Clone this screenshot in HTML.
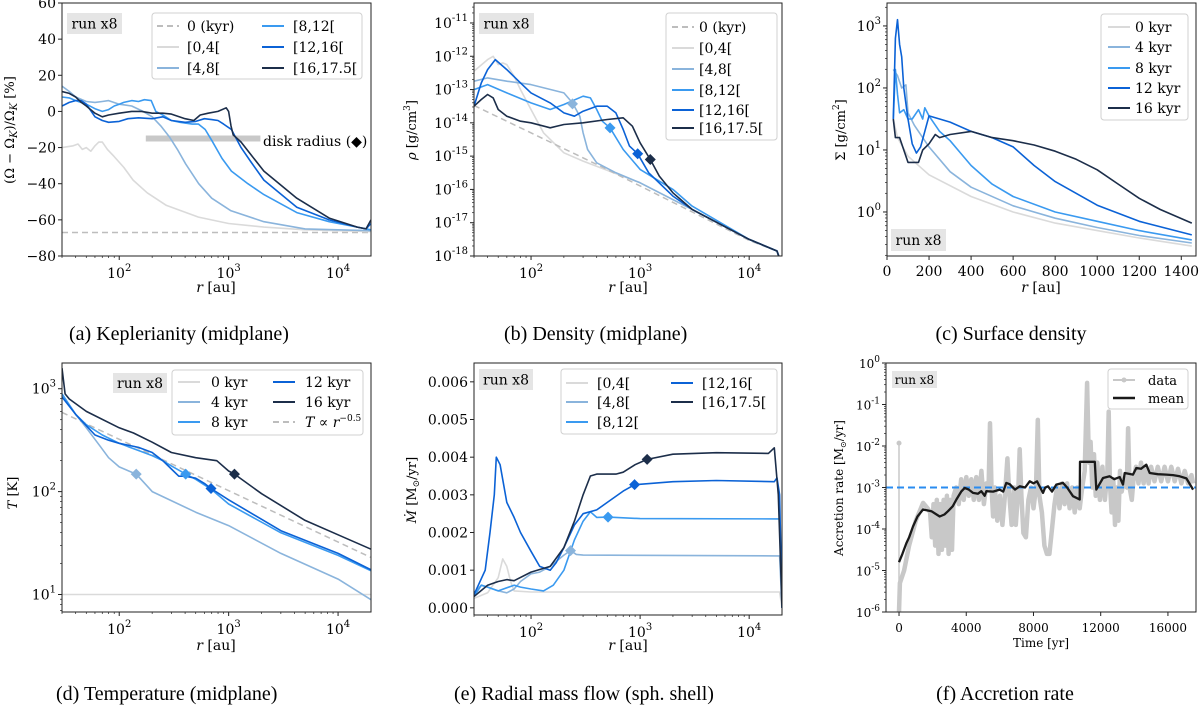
<!DOCTYPE html>
<html><head><meta charset="utf-8">
<style>
html,body{margin:0;padding:0;background:#fff;}
svg{display:block;font-family:"DejaVu Serif","Liberation Serif",serif;}
.cap{font-family:"Liberation Serif","DejaVu Serif",serif;font-size:20px;fill:#000;}
</style></head>
<body>
<svg id="fig" width="1200" height="706" viewBox="0 0 1200 706" xmlns="http://www.w3.org/2000/svg">
<text class="cap" x="69" y="340">(a) Keplerianity (midplane)</text>
<text class="cap" x="504" y="340">(b) Density (midplane)</text>
<text class="cap" x="1011" y="340" text-anchor="middle">(c) Surface density</text>
<text class="cap" x="56" y="700">(d) Temperature (midplane)</text>
<text class="cap" x="584" y="700" text-anchor="middle">(e) Radial mass flow (sph. shell)</text>
<text class="cap" x="1005" y="700" text-anchor="middle">(f) Accretion rate</text>
</svg>
<script>
// ---------- colours ----------
const C0='#bdbdbd', C1='#dadada', C2='#8ab4dc', C3='#3a9af0', C4='#0b62d6', C5='#1c2e4a';

// ---------- (a) Keplerianity: [r au, %] ----------
const aT0=[[30,-67],[20000,-67]];
const aS1=[[30,-20],[38,-19],[42,-18],[46,-21],[50,-20],[55,-22],[60,-19],[65,-17],[70,-17],[78,-21],[90,-25],[110,-31],[134,-38],[180,-45],[270,-52],[530,-58.5],[1000,-62],[2100,-64],[5000,-65.5],[20000,-66.5]];
const aS2=[[30,14],[35,11],[40,8],[50,5.5],[60,5],[70,5.5],[80,6],[100,4],[130,3],[165,0],[200,-3],[240,-8],[287,-14],[340,-21],[404,-29],[532,-40],[700,-48],[1050,-55],[2100,-61],[5000,-65],[20000,-66]];
const aS3=[[30,8],[35,7.5],[40,6],[50,4],[60,1.5],[70,0],[80,1],[90,3],[100,4],[110,5],[130,6],[150,5.5],[170,6.5],[196,6],[216,0],[250,-2],[300,-5],[360,-6],[464,-7],[530,-7],[610,-10],[700,-16],[870,-26],[1060,-33],[1500,-40],[2100,-46],[4200,-56],[8300,-61],[15000,-64],[20000,-65.5]];
const aS4=[[30,3],[35,5],[40,6],[45,6],[50,4],[60,-3],[70,-5],[80,-6],[100,-5.5],[120,-4],[150,-3.5],[200,-4],[250,-3],[300,-5],[400,-6],[500,-5.5],[600,-4],[700,-4.5],[800,-5],[900,-7],[1060,-10],[1300,-20],[1600,-28],[2100,-38],[4200,-53],[8300,-60],[15000,-64],[18000,-65],[20000,-62]];
const aS5=[[30,11],[35,10],[40,8],[45,5],[50,3],[60,-1],[70,-3],[80,-2],[100,-1],[130,0],[160,0],[200,-1],[250,-1],[300,-1.5],[400,-4],[480,-5],[550,-2],[650,-1],[800,0],[950,2],[1000,0],[1050,-8],[1100,-13],[1300,-17],[1600,-24],[2100,-33],[4200,-48],[8300,-59],[15000,-64],[18000,-65],[20000,-60]];
const aBar=[[175,-15],[1950,-15]];

// ---------- (b) Density: [r, log10 rho] ----------
const bT0=[[30,-13.48],[450,-15.33],[10000,-17.53],[18000,-17.85],[20000,-18.2]];
const bS1=[[30,-12.45],[40,-12.1],[45,-12.0],[50,-12.25],[55,-12.2],[60,-12.25],[70,-12.6],[80,-13.0],[100,-13.6],[130,-14.3],[200,-14.9],[300,-15.15],[1000,-15.8],[3000,-16.6],[10000,-17.5],[18000,-17.85],[20000,-18.3]];
const bS2=[[30,-12.75],[40,-12.65],[60,-12.75],[100,-12.85],[200,-13.1],[240,-13.4],[280,-13.8],[300,-14.3],[330,-14.8],[400,-15.2],[600,-15.5],[1000,-15.8],[3000,-16.6],[10000,-17.5],[18000,-17.85],[20000,-18.3]];
const bS3=[[30,-13.0],[40,-12.85],[60,-13.1],[100,-13.4],[150,-13.6],[200,-13.45],[300,-13.2],[350,-13.25],[400,-13.6],[450,-13.95],[530,-14.15],[700,-14.8],[1000,-15.4],[2000,-16.0],[3000,-16.5],[10000,-17.5],[18000,-17.85],[20000,-18.3]];
const bS4=[[30,-13.5],[35,-12.8],[40,-12.4],[47,-12.1],[60,-12.4],[80,-12.8],[100,-13.1],[150,-13.4],[200,-13.7],[250,-13.8],[300,-13.65],[400,-13.5],[500,-13.5],[600,-13.7],[700,-14.2],[800,-14.7],[950,-14.93],[1200,-15.5],[2000,-16.2],[3000,-16.6],[10000,-17.5],[18000,-17.85],[20000,-18.3]];
const bS5=[[30,-13.5],[35,-13.3],[40,-13.15],[45,-13.25],[50,-13.6],[60,-13.8],[80,-13.95],[100,-14.0],[150,-14.15],[200,-14.05],[300,-14.0],[500,-13.9],[700,-13.85],[850,-14.1],[1000,-14.6],[1240,-15.1],[1500,-15.6],[2000,-16.1],[3000,-16.6],[10000,-17.5],[18000,-17.85],[20000,-18.3]];
const bMk=[[240,-13.43],[530,-14.15],[950,-14.93],[1240,-15.1]];

// ---------- (c) Surface density: [r, log10 Sigma] ----------
const cS1=[[30,1.5],[50,1.2],[100,0.9],[200,0.6],[400,0.25],[600,0.0],[800,-0.18],[1000,-0.3],[1200,-0.42],[1450,-0.55]];
const cS2=[[30,2.3],[50,2.2],[70,2.0],[90,2.05],[100,1.6],[130,1.4],[200,1.05],[300,0.65],[400,0.4],[600,0.1],[800,-0.1],[1000,-0.25],[1200,-0.38],[1450,-0.5]];
const cS3=[[30,1.5],[40,2.3],[50,1.9],[60,1.6],[80,1.65],[100,1.5],[120,1.5],[150,1.65],[170,1.5],[180,1.68],[200,1.55],[250,1.3],[300,1.15],[350,0.95],[400,0.75],[500,0.45],[600,0.25],[800,0.0],[1000,-0.15],[1200,-0.3],[1450,-0.45]];
const cS4=[[30,1.5],[40,2.8],[50,3.1],[60,2.7],[70,2.5],[80,2.0],[100,1.5],[120,1.1],[140,0.95],[160,1.05],[180,1.3],[200,1.55],[250,1.5],[300,1.45],[400,1.3],[500,1.2],[600,1.05],[700,0.75],[800,0.49],[1000,0.11],[1200,-0.15],[1450,-0.37]];
const cS5=[[30,1.5],[40,1.2],[60,1.2],[80,1.0],[100,0.8],[150,0.8],[170,1.0],[200,1.1],[230,1.25],[250,1.2],[300,1.25],[400,1.3],[500,1.2],[600,1.15],[700,1.08],[800,0.98],[900,0.85],[1000,0.68],[1100,0.45],[1200,0.22],[1300,0.04],[1450,-0.18]];

// ---------- (d) Temperature: [r, log10 T] ----------
const dS1=[[30,1],[20000,1]];
const dS2=[[30,2.95],[40,2.75],[50,2.62],[67,2.44],[80,2.33],[100,2.24],[143,2.17],[200,2.0],[500,1.8],[1000,1.67],[3000,1.4],[10000,1.15],[20000,0.95]];
const dS3=[[30,2.95],[40,2.75],[50,2.65],[70,2.55],[100,2.47],[150,2.4],[200,2.35],[250,2.3],[300,2.25],[405,2.17],[500,2.12],[700,2.02],[1000,1.88],[3000,1.6],[10000,1.38],[20000,1.23]];
const dS4=[[30,2.92],[40,2.75],[60,2.55],[80,2.5],[100,2.47],[150,2.43],[200,2.38],[250,2.3],[300,2.22],[350,2.15],[400,2.15],[500,2.13],[600,2.08],[690,2.03],[1000,1.92],[3000,1.62],[10000,1.4],[20000,1.24]];
const dS5=[[30,3.2],[32,2.95],[35,2.9],[50,2.78],[100,2.62],[135,2.57],[200,2.48],[300,2.38],[500,2.33],[780,2.3],[1000,2.2],[1130,2.17],[2000,1.98],[5000,1.72],[10000,1.58],[20000,1.44]];
const dFit=[[30,2.77],[20000,1.36]];
const dMk=[[143,2.17],[405,2.17],[690,2.03],[1130,2.17]];

// ---------- (e) Mass flow: [r, Mdot in 1e-3 Msun/yr] ----------
const eS1=[[30,0.25],[40,0.4],[50,0.8],[55,1.3],[60,1.1],[65,0.7],[70,0.45],[100,0.42],[19000,0.42],[20000,0]];
const eS2=[[30,0.4],[35,0.6],[40,0.55],[50,0.45],[60,0.4],[70,0.5],[80,0.7],[100,0.9],[120,0.95],[150,1.1],[200,1.4],[230,1.52],[260,1.42],[300,1.4],[18000,1.38],[19000,1.38],[20000,0]];
const eS3=[[30,0.3],[35,0.6],[40,0.55],[50,0.45],[70,0.6],[80,0.55],[100,0.5],[130,0.45],[160,0.6],[200,1.0],[250,1.8],[300,2.3],[350,2.55],[400,2.4],[508,2.41],[1000,2.37],[18000,2.36],[19000,2.36],[20000,0]];
const eS4=[[30,0.35],[38,1.0],[42,2.0],[46,3.0],[48,4.0],[52,3.8],[60,2.8],[70,2.4],[80,2.0],[100,1.5],[120,1.1],[150,1.0],[170,1.2],[200,1.6],[250,2.2],[300,2.5],[400,2.6],[500,2.8],[700,3.1],[890,3.27],[2000,3.35],[5000,3.38],[17000,3.35],[18000,3.45],[19000,3.0],[20000,0]];
const eS5=[[30,0.3],[40,0.6],[50,0.7],[60,0.75],[70,0.72],[100,0.95],[150,1.1],[200,1.6],[250,2.3],[300,3.0],[350,3.5],[400,3.55],[500,3.55],[600,3.55],[700,3.6],[900,3.8],[1160,3.94],[2000,4.08],[5000,4.12],[15000,4.1],[17000,4.25],[18500,3.0],[20000,0]];
const eMk=[[230,1.52],[508,2.41],[890,3.27],[1160,3.94]];

// ---------- (f) Accretion rate: [time yr, log10 Mdot] ----------
const fSpike0=[[0,-6],[0,-1.93]];
const fData=[[0,-6],[50,-5.3],[300,-5.0],[600,-4.4],[1000,-3.8],[1430,-3.37],[1700,-3.5],[1850,-3.6],[1950,-4.2],[2050,-3.4],[2150,-4.4],[2250,-3.3],[2350,-4.6],[2450,-3.4],[2550,-4.5],[2650,-3.3],[2750,-4.4],[2850,-3.2],[2950,-4.6],[3050,-3.3],[3150,-4.5],[3250,-3.2],[3400,-3.0],[3550,-3.4],[3700,-2.8],[3850,-3.3],[4000,-2.75],[4150,-3.2],[4300,-2.8],[4450,-3.3],[4600,-2.75],[4750,-3.3],[4900,-2.6],[5050,-3.4],[5200,-2.9],[5330,-3.0],[5415,-1.45],[5500,-3.0],[5600,-3.7],[5700,-3.0],[5850,-3.8],[6000,-3.2],[6150,-3.9],[6300,-3.2],[6450,-2.3],[6550,-3.1],[6700,-3.9],[6850,-3.0],[6950,-3.9],[7100,-3.0],[7180,-2.08],[7280,-3.2],[7400,-4.1],[7550,-4.2],[7700,-3.3],[7850,-3.0],[8000,-3.5],[8150,-3.0],[8260,-1.37],[8350,-3.2],[8500,-3.6],[8650,-4.4],[8800,-4.6],[8950,-4.6],[9100,-4.0],[9250,-3.4],[9400,-3.0],[9550,-3.5],[9700,-2.9],[9850,-3.4],[10000,-2.9],[10150,-3.5],[10300,-3.0],[10450,-3.6],[10600,-3.0],[10750,-3.5],[10900,-3.0],[11050,-2.6],[11190,-0.48],[11300,-2.4],[11400,-1.9],[11500,-3.0],[11600,-2.2],[11700,-3.2],[11800,-2.4],[11950,-3.3],[12100,-2.5],[12250,-3.3],[12400,-2.6],[12475,-1.17],[12550,-2.9],[12650,-3.6],[12750,-2.8],[12850,-3.9],[12950,-3.0],[13050,-3.8],[13150,-2.6],[13250,-3.1],[13400,-2.8],[13550,-3.0],[13630,-1.57],[13720,-3.0],[13850,-3.3],[13950,-2.8],[14100,-2.5],[14250,-2.9],[14400,-2.4],[14550,-2.9],[14700,-2.5],[14850,-2.9],[15000,-2.5],[15200,-2.85],[15400,-2.5],[15600,-2.85],[15800,-2.5],[16000,-2.85],[16200,-2.5],[16400,-2.85],[16600,-2.55],[16800,-2.9],[17000,-2.6],[17200,-2.9],[17400,-2.7],[17500,-2.9]];
const fMean=[[0,-4.8],[200,-4.6],[436,-4.34],[600,-4.2],[833,-3.94],[1100,-3.7],[1428,-3.53],[1924,-3.57],[2420,-3.7],[2700,-3.65],[2915,-3.57],[3200,-3.45],[3411,-3.29],[3700,-3.1],[3906,-3.01],[4150,-3.05],[4402,-3.13],[4700,-3.15],[4898,-3.09],[5100,-3.2],[5195,-3.09],[5600,-3.1],[5989,-3.05],[6200,-3.1],[6385,-2.89],[6583,-2.92],[6900,-3.05],[7178,-2.97],[7500,-3.0],[7773,-2.85],[8000,-2.9],[8209,-2.85],[8400,-3.0],[8566,-3.13],[8700,-3.0],[8864,-2.97],[9100,-3.1],[9360,-2.93],[9756,-2.89],[10000,-3.0],[10351,-3.21],[10748,-3.29],[10770,-2.38],[11650,-2.38],[11740,-3.05],[11950,-2.9],[12137,-2.77],[12534,-2.73],[12800,-2.8],[13129,-2.75],[13327,-2.93],[13426,-2.65],[13922,-2.69],[14120,-2.53],[14400,-2.55],[14715,-2.45],[14914,-2.65],[15400,-2.68],[15905,-2.69],[16300,-2.7],[16698,-2.73],[17100,-2.78],[17500,-3.05]];
const fRef=[[-775,-3],[17670,-3]];

// ---------- tick labels ----------
const aYTicks=[60,40,20,0,-20,-40,-60,-80];
const cXTicks=[0,200,400,600,800,1000,1200,1400];
const eYTicks=[0,1,2,3,4,5,6];
const eYLabels=['0.000','0.001','0.002','0.003','0.004','0.005','0.006'];
const fXTicks=[0,4000,8000,12000,16000];

// ---------- helpers ----------
const NS='http://www.w3.org/2000/svg';
const fig=document.getElementById('fig');
function mk(tag,attrs,parent){const e=document.createElementNS(NS,tag);for(const k in attrs)e.setAttribute(k,attrs[k]);(parent||fig).appendChild(e);return e;}
function sup(parent,x,y,base,exp,anchor,fs,name){
  const t=mk('text',{x:x,y:y,'text-anchor':anchor,'font-size':fs},parent);
  
  
  t.appendChild(document.createTextNode(base));
  const s=mk('tspan',{dy:-Math.round(fs*0.5),'font-size':Math.round(fs*0.72)},t);
  s.textContent=exp;
  return t;
}
let clipN=0;
function makePanel(P){
  const g=mk('g',{});
  
  
  const X=v=>P.xt==='log'? P.x0+(Math.log10(v)-P.xd[0])/(P.xd[1]-P.xd[0])*(P.x1-P.x0) : P.x0+(v-P.xd[0])/(P.xd[1]-P.xd[0])*(P.x1-P.x0);
  const Y=v=>P.y1-(v-P.yd[0])/(P.yd[1]-P.yd[0])*(P.y1-P.y0);
  const fs=P.fs||14;
  if(P.xt==='log'){
    for(let n=Math.floor(P.xd[0]);n<=Math.ceil(P.xd[1]);n++){
      for(let k=1;k<10;k++){const l=n+Math.log10(k); if(l<P.xd[0]-1e-9||l>P.xd[1]+1e-9)continue;
        const x=P.x0+(l-P.xd[0])/(P.xd[1]-P.xd[0])*(P.x1-P.x0);
        const tk=mk('line',{x1:x,x2:x,y1:P.y1,y2:P.y1+(k===1?4:2),stroke:'#222','stroke-width':k===1?1:0.7},g);
        
        
        if(k===1) sup(g,x,P.y1+22,'10',String(n),'middle',fs,'x-tick-label');
      }
    }
  } else {
    P.xticks.forEach(v=>{const x=X(v);
      const tk=mk('line',{x1:x,x2:x,y1:P.y1,y2:P.y1+4,stroke:'#222','stroke-width':1},g);
      
      
      const t=mk('text',{x:x,y:P.y1+20,'text-anchor':'middle','font-size':fs},g);
      
      
      t.textContent=String(v);});
  }
  if(P.yt==='log'){
    for(let n=Math.floor(P.yd[0]);n<=Math.ceil(P.yd[1]);n++){
      for(let k=1;k<10;k++){const l=n+Math.log10(k); if(l<P.yd[0]-1e-9||l>P.yd[1]+1e-9)continue;
        const y=Y(l);
        const tk=mk('line',{x1:P.x0,x2:P.x0-(k===1?4:2),y1:y,y2:y,stroke:'#222','stroke-width':k===1?1:0.7},g);
        
        
        if(k===1) sup(g,P.x0-6,y+5,'10',String(n),'end',fs,'y-tick-label');
      }
    }
  } else {
    P.yticks.forEach((v,i)=>{const y=Y(v);
      const tk=mk('line',{x1:P.x0,x2:P.x0-4,y1:y,y2:y,stroke:'#222','stroke-width':1},g);
      
      
      const t=mk('text',{x:P.x0-6,y:y+5,'text-anchor':'end','font-size':fs},g);
      
      
      t.textContent=P.ylabels?P.ylabels[i]:String(v).replace('-','\u2212');});
  }
  const id='clip'+(clipN++);
  const cp=mk('clipPath',{id:id},g);
  mk('rect',{x:P.x0,y:P.y0,width:P.x1-P.x0,height:P.y1-P.y0},cp);
  const pg=mk('g',{'clip-path':'url(#'+id+')'},g);
  
  
  const fr=mk('rect',{x:P.x0,y:P.y0,width:P.x1-P.x0,height:P.y1-P.y0,fill:'none',stroke:'#222','stroke-width':1},g);
  
  
  return {g,pg,X,Y,P};
}
function line(A,data,color,w,name,dash){
  const d=data.map((p,i)=>(i?'L':'M')+A.X(p[0]).toFixed(1)+','+A.Y(p[1]).toFixed(1)).join('');
  const at={d:d,fill:'none',stroke:color,'stroke-width':w,'stroke-linejoin':'round'};
  if(dash)at['stroke-dasharray']=dash;
  const p=mk('path',at,A.pg);
  
  
  return p;
}
function diamonds(A,data,colors,name){
  data.forEach((p,i)=>{const x=A.X(p[0]),y=A.Y(p[1]),s=5.5;
    const m=mk('polygon',{points:`${x},${y-s} ${x+s},${y} ${x},${y+s} ${x-s},${y}`,fill:colors[i]},A.pg);
    
    });
}
function tag(x,y,w,h,fs){
  const r=mk('rect',{x:x,y:y,width:w,height:h,fill:'#e5e5e5'});
  
  
  const t=mk('text',{x:x+w/2,y:y+h/2+fs*0.36,'text-anchor':'middle','font-size':fs});
  
  
  t.textContent='run x8';
}
function legend(bx,by,bw,bh,entries,fs){
  const r=mk('rect',{x:bx,y:by,width:bw,height:bh,rx:3,fill:'#fff','fill-opacity':0.85,stroke:'#d0d0d0','stroke-width':1});
  
  
  entries.forEach(e=>{
    const at={x1:e.lx,x2:e.lx+22,y1:e.y,y2:e.y,stroke:e.c,'stroke-width':e.w||2};
    if(e.dash)at['stroke-dasharray']=e.dash;
    const l=mk('line',at);
    
    
    if(e.dot){const d=mk('circle',{cx:e.lx+11,cy:e.y,r:2.5,fill:e.c});
      
      }
    const t=mk('text',{x:e.tx,y:e.y+5,'font-size':fs});
    
    
    if(e.html){t.innerHTML=e.html;}else{t.textContent=e.t;}
  });
}
function label(x,y,html,rot,fs,name){
  const t=mk('text',{x:x,y:y,'text-anchor':'middle','font-size':fs,transform:rot?`rotate(-90 ${x} ${y})`:''});
  
  
  t.innerHTML=html;
}
const RAU='<tspan font-style="italic">r</tspan> [au]';

// ---------- panel a ----------
const A=makePanel({id:'a',x0:62,x1:371,y0:3,y1:256,xt:'log',xd:[1.477,4.301],yt:'lin',yd:[-80,60],yticks:aYTicks});
line(A,aBar,'#c8c8c8',6,'disk-radius-bar');
line(A,aT0,C0,1.5,'line-0kyr','6,4');
line(A,aS1,C1,1.6,'line-0-4kyr');
line(A,aS2,C2,1.6,'line-4-8kyr');
line(A,aS3,C3,1.6,'line-8-12kyr');
line(A,aS4,C4,1.6,'line-12-16kyr');
line(A,aS5,C5,1.6,'line-16-17.5kyr');
{const t=mk('text',{x:263,y:146,'font-size':14});
 
 
 t.textContent='disk radius (\u25C6)';}
tag(67,13,55,21,14);
legend(152,13,210,66,[
 {lx:157,tx:187,y:26,c:C0,t:'0 (kyr)',dash:'6,4'},{lx:157,tx:187,y:47,c:C1,t:'[0,4['},{lx:157,tx:187,y:68,c:C2,t:'[4,8['},
 {lx:262,tx:293,y:26,c:C3,t:'[8,12['},{lx:262,tx:293,y:47,c:C4,t:'[12,16['},{lx:262,tx:293,y:68,c:C5,t:'[16,17.5['}],14);
label(216,292,RAU,false,14,'x-axis-title-a');
label(14,130,'(Ω − Ω<tspan font-style="italic" font-size="10" dy="3">K</tspan><tspan dy="-3">)/Ω</tspan><tspan font-style="italic" font-size="10" dy="3">K</tspan><tspan dy="-3"> [%]</tspan>',true,13,'y-axis-title-a');

// ---------- panel b ----------
const B=makePanel({id:'b',x0:474,x1:782,y0:3,y1:256,xt:'log',xd:[1.477,4.301],yt:'log',yd:[-18,-10.4]});
line(B,bS1,C1,1.6,'line-0-4kyr');
line(B,bT0,C0,1.5,'line-0kyr','6,4');
line(B,bS2,C2,1.6,'line-4-8kyr');
line(B,bS3,C3,1.6,'line-8-12kyr');
line(B,bS4,C4,1.6,'line-12-16kyr');
line(B,bS5,C5,1.6,'line-16-17.5kyr');
diamonds(B,bMk,[C2,C3,C4,C5],'disk-radius-marker');
tag(479,13,55,21,14);
legend(666,13,111,127,[
 {lx:672,tx:699,y:27,c:C0,t:'0 (kyr)',dash:'6,4'},{lx:672,tx:699,y:48,c:C1,t:'[0,4['},{lx:672,tx:699,y:69,c:C2,t:'[4,8['},
 {lx:672,tx:699,y:90,c:C3,t:'[8,12['},{lx:672,tx:699,y:110,c:C4,t:'[12,16['},{lx:672,tx:699,y:128,c:C5,t:'[16,17.5['}],14);
label(628,292,RAU,false,14,'x-axis-title-b');
label(416,130,'<tspan font-style="italic">ρ</tspan> [g/cm<tspan font-size="9" dy="-6">3</tspan><tspan dy="6">]</tspan>',true,13,'y-axis-title-b');

// ---------- panel c ----------
const Cp=makePanel({id:'c',x0:887,x1:1196,y0:3,y1:256,xt:'lin',xd:[0,1470],xticks:cXTicks,yt:'log',yd:[-0.71,3.37]});
line(Cp,cS1,C1,1.6,'line-0kyr');
line(Cp,cS2,C2,1.6,'line-4kyr');
line(Cp,cS3,C3,1.6,'line-8kyr');
line(Cp,cS4,C4,1.6,'line-12kyr');
line(Cp,cS5,C5,1.6,'line-16kyr');
tag(891,229,55,22,14);
legend(1101,14,87,106,[
 {lx:1108,tx:1135,y:27,c:C1,t:'0 kyr'},{lx:1108,tx:1135,y:47,c:C2,t:'4 kyr'},{lx:1108,tx:1135,y:68,c:C3,t:'8 kyr'},
 {lx:1108,tx:1135,y:88,c:C4,t:'12 kyr'},{lx:1108,tx:1135,y:108,c:C5,t:'16 kyr'}],14);
label(1041,292,RAU,false,14,'x-axis-title-c');
label(845,130,'Σ [g/cm<tspan font-size="9" dy="-6">2</tspan><tspan dy="6">]</tspan>',true,13,'y-axis-title-c');

// ---------- panel d ----------
const D=makePanel({id:'d',x0:62,x1:371,y0:363,y1:612,xt:'log',xd:[1.477,4.301],yt:'log',yd:[0.83,3.25]});
line(D,dS1,C1,1.6,'line-0kyr');
line(D,dFit,C0,1.5,'line-power-law','6,4');
line(D,dS2,C2,1.6,'line-4kyr');
line(D,dS3,C3,1.6,'line-8kyr');
line(D,dS4,C4,1.6,'line-12kyr');
line(D,dS5,C5,1.6,'line-16kyr');
diamonds(D,dMk,[C2,C3,C4,C5],'disk-radius-marker');
tag(113,373,54,20,14);
legend(172,370,191,65,[
 {lx:178,tx:211,y:382,c:C1,t:'0 kyr'},{lx:178,tx:211,y:402,c:C2,t:'4 kyr'},{lx:178,tx:211,y:422,c:C3,t:'8 kyr'},
 {lx:273,tx:305,y:382,c:C4,t:'12 kyr'},{lx:273,tx:305,y:402,c:C5,t:'16 kyr'},
 {lx:273,tx:305,y:422,c:C0,dash:'6,4',html:'<tspan font-style="italic">T</tspan> ∝ <tspan font-style="italic">r</tspan><tspan font-size="9" dy="-6">−0.5</tspan>'}],14);
label(216,650,RAU,false,14,'x-axis-title-d');
label(17,493,'<tspan font-style="italic">T</tspan> [K]',true,13,'y-axis-title-d');

// ---------- panel e ----------
const E=makePanel({id:'e',x0:474,x1:782,y0:363,y1:615,xt:'log',xd:[1.477,4.301],yt:'lin',yd:[-0.19,6.5],yticks:eYTicks,ylabels:eYLabels});
line(E,eS1,C1,1.6,'line-0-4kyr');
line(E,eS2,C2,1.6,'line-4-8kyr');
line(E,eS3,C3,1.6,'line-8-12kyr');
line(E,eS4,C4,1.6,'line-12-16kyr');
line(E,eS5,C5,1.6,'line-16-17.5kyr');
diamonds(E,eMk,[C2,C3,C4,C5],'disk-radius-marker');
tag(479,369,54,21,14);
legend(561,369,216,65,[
 {lx:566,tx:597,y:383,c:C1,t:'[0,4['},{lx:566,tx:597,y:402,c:C2,t:'[4,8['},{lx:566,tx:597,y:422,c:C3,t:'[8,12['},
 {lx:671,tx:702,y:383,c:C4,t:'[12,16['},{lx:671,tx:702,y:402,c:C5,t:'[16,17.5[' }],14);
label(628,650,RAU,false,14,'x-axis-title-e');
label(416,490,'<tspan font-style="italic">Ṁ</tspan> [M<tspan font-size="9" dy="3">⊙</tspan><tspan dy="-3">/yr]</tspan>',true,13,'y-axis-title-e');

// ---------- panel f ----------
const F=makePanel({id:'f',x0:886,x1:1196,y0:363,y1:612,xt:'lin',xd:[-775,17670],xticks:fXTicks,yt:'log',yd:[-6,0],fs:12});
line(F,fSpike0,'#c8c8c8',1.5,'data-spike');
{const c=mk('circle',{cx:F.X(fSpike0[1][0]),cy:F.Y(fSpike0[1][1]),r:2.5,fill:'#c8c8c8'},F.pg);
 
 }
line(F,fData,'#c8c8c8',4.5,'data-line');
line(F,fRef,'#2a8cf0',2,'reference-line','7,4');
line(F,fMean,'#1a1a1a',2.3,'mean-line');
tag(892,371,45,17,12);
legend(1108,369,80,40,[
 {lx:1113,tx:1148,y:380,c:'#c8c8c8',t:'data',dot:true},{lx:1113,tx:1148,y:398,c:'#1a1a1a',t:'mean',w:2.5}],13);
label(1041,647,'Time [yr]',false,12,'x-axis-title-f');
label(843,488,'Accretion rate [M<tspan font-size="8" dy="3">⊙</tspan><tspan dy="-3">/yr]</tspan>',true,12,'y-axis-title-f');
</script>
</body></html>
